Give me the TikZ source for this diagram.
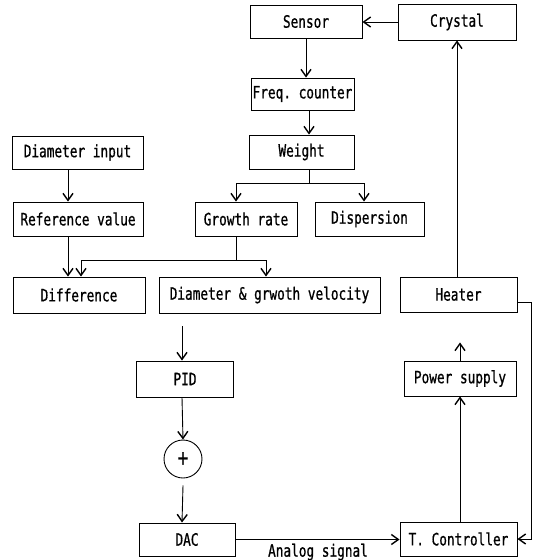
\documentclass[tikz,border=0pt]{standalone}
\usepackage{fontspec}
\setmonofont{DejaVu Sans Mono}[FakeStretch=0.75,FakeBold=0.8]
\usetikzlibrary{arrows.meta,calc}
\begin{document}
\begin{tikzpicture}[x=1pt,y=-1pt,
  txt/.style={font=\ttfamily\fontsize{17}{17}\selectfont},
  box/.style={draw, line width=0.9pt, inner sep=0pt, txt},
  arr/.style={line width=0.9pt, -{Straight Barb[length=7pt,width=10pt,line width=1.4pt]}},
  ln/.style={line width=0.9pt}]
\useasboundingbox[fill=white] (0,0) rectangle (536,560);
% boxes
\node[box, minimum width=112pt, minimum height=33pt] (sensor) at (306,21.5) {Sensor};
\node[box, minimum width=118pt, minimum height=36pt] (crystal) at (457,22) {Crystal};
\node[box, minimum width=103pt, minimum height=32pt] (freq) at (302.5,94) {Freq. counter};
\node[box, minimum width=105pt, minimum height=34pt] (weight) at (301.5,152) {Weight};
\node[box, minimum width=131pt, minimum height=33pt] (diamin) at (77.5,152.5) {Diameter input};
\node[box, minimum width=130pt, minimum height=34pt] (refval) at (78,219) {Reference value};
\node[box, minimum width=102pt, minimum height=34pt] (growth) at (246,219) {Growth rate};
\node[box, minimum width=109pt, minimum height=34pt] (disp) at (369.5,219) {Dispersion};
\node[box, minimum width=132pt, minimum height=36pt] (diff) at (79,295) {Difference};
\node[box, minimum width=221pt, minimum height=36pt] (dgv) at (269.5,295) {Diameter \& grwoth velocity};
\node[box, minimum width=117pt, minimum height=35pt] (heater) at (458.5,294.5) {Heater};
\node[box, minimum width=97pt, minimum height=36pt] (pid) at (185,379) {PID};
\node[box, minimum width=112pt, minimum height=35pt] (power) at (460,378.5) {Power supply};
\node[draw, circle, line width=0.9pt, minimum size=38pt, inner sep=0pt, font=\ttfamily\fontsize{24}{24}\selectfont] (plus) at (183,459) {+};
\node[box, minimum width=96pt, minimum height=33pt] (dac) at (187,539.5) {DAC};
\node[box, minimum width=117pt, minimum height=34pt] (tc) at (458.5,539) {T. Controller};
\node[txt, inner sep=0pt] (analog) at (318,552) {Analog signal};
% column coordinates
\coordinate (c1) at (309,0);
\coordinate (wb) at (309,183);
\coordinate (gx) at (236,0);
\coordinate (sx) at (364,0);
\coordinate (dx) at (68,0);
\coordinate (fx) at (81,0);
\coordinate (hx) at (266,0);
\coordinate (gb) at (236,260);
\coordinate (px) at (182,0);
\coordinate (tx) at (460,0);
\coordinate (rx) at (531,0);
% connectors
\draw[arr] (crystal.west) -- (crystal.west -| sensor.east);
\draw[arr] (sensor.south) -- (sensor.south |- freq.north);
\draw[arr] (c1 |- freq.south) -- (c1 |- weight.north);
\draw[ln] (c1 |- weight.south) -- (wb);
\draw[arr] (wb) -| (gx |- growth.north);
\draw[arr] (wb) -| (sx |- disp.north);
\draw[arr] (dx |- diamin.south) -- (dx |- refval.north);
\draw[arr] (dx |- refval.south) -- (dx |- diff.north);
\draw[ln] (gx |- growth.south) -- (gb);
\draw[arr] (gb) -| (fx |- diff.north);
\draw[arr] (gb) -| (hx |- dgv.north);
\draw[arr] ($(px |- dgv.south)+(0,13)$) -- (px |- pid.north);
\draw[arr] (px |- pid.south) -- (plus.north);
\draw[arr] ($(plus.south)+(0,7)$) -- (px |- dac.north);
\draw[arr] (dac.east) -- (dac.east -| tc.west);
\draw[arr] (tx |- tc.north) -- (tx |- power.south);
\draw[arr] (tx |- power.north) -- ($(tx |- heater.south)+(0,30)$);
\draw[arr] (crystal.south |- heater.north) -- (crystal.south);
\draw[arr] ($(heater.east)+(0,8)$) -| (rx |- tc.east) -- (tc.east);
\end{tikzpicture}
\end{document}
